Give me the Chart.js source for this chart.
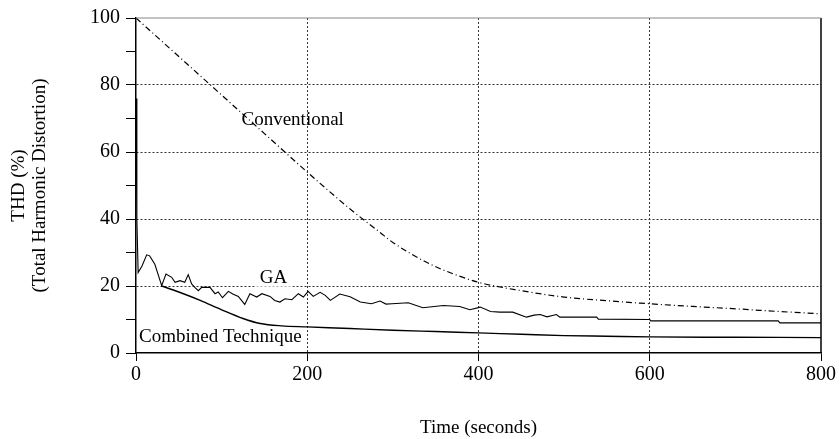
<!DOCTYPE html>
<html>
<head>
<meta charset="utf-8">
<script src="https://cdn.jsdelivr.net/npm/chart.js@4"></script>
<style>
  body { margin:0; background:#fff; }
  #c { display:block; }
</style>
</head>
<body>
<canvas id="c" width="840" height="439"></canvas>
<script>
// THD vs time, three techniques

const convT = [0, 50, 100, 150, 200, 250, 285, 300, 343, 375, 400, 450, 500, 550, 600, 650, 700, 750, 800];
const convV = [100, 88.5, 77, 65.5, 54, 43, 36, 33, 26.6, 23.2, 21.1, 18.6, 16.7, 15.6, 14.7, 13.9, 13.2, 12.4, 11.7];

const gaT = [0, 1, 2.5, 7, 12.5, 16, 22, 30, 35, 41.7, 45.6, 51.4, 57, 61, 65, 69, 72.8, 76.7, 86.4, 92.3, 96, 101, 107.9, 113, 119.5, 127, 133, 141, 147, 156.5, 162, 168, 174, 182, 189.6, 195.5, 201, 207, 215, 221, 227, 238, 250, 262, 275, 285, 292, 299, 318, 335, 359, 378, 390, 402, 414, 425, 440, 456, 465, 472, 480, 491, 495, 538, 540, 600, 601, 750, 752, 800];
const gaV = [76, 40, 24, 26, 29.3, 29, 26.5, 20.1, 23.6, 22.6, 21.1, 21.6, 21.1, 23.4, 20.6, 19.5, 18.6, 19.6, 19.6, 17.7, 18.2, 16.5, 18.4, 17.6, 16.9, 14.5, 17.7, 16.7, 17.7, 16.9, 15.7, 15.2, 16.2, 15.9, 17.7, 16.7, 18.4, 16.9, 18.1, 17.2, 15.7, 17.6, 16.8, 15.2, 14.7, 15.5, 14.6, 14.7, 15.0, 13.5, 14.2, 13.9, 12.9, 13.7, 12.4, 12.2, 12.2, 10.7, 11.3, 11.5, 10.8, 11.5, 10.7, 10.7, 10.1, 10.0, 9.6, 9.6, 9.0, 9.0];

const combT = [30, 50, 75, 100, 125, 145, 170, 200, 250, 300, 350, 400, 450, 500, 550, 600, 700, 800];
const combV = [20, 18.2, 15.7, 12.9, 10.3, 8.8, 8.1, 7.8, 7.3, 6.8, 6.4, 6.0, 5.6, 5.2, 5.0, 4.8, 4.7, 4.6];

const xTicks = [0, 200, 400, 600, 800];
const yTicks = [0, 20, 40, 60, 80, 100];

const serif = '"Liberation Serif", "DejaVu Serif", serif';

function pts(ts, vs) { return ts.map((t, i) => ({ x: t, y: vs[i] })); }

const textPlugin = {
  id: 'texts',
  afterDatasetsDraw(chart) {
    const ctx = chart.ctx;
    const xs = chart.scales.x, ys = chart.scales.y;
    const a = chart.chartArea;
    ctx.save();
    // frame: solid right and top
    ctx.strokeStyle = '#000';
    ctx.lineWidth = 1.5;
    ctx.beginPath();
    ctx.moveTo(a.right, a.top);
    ctx.lineTo(a.right, a.bottom);
    ctx.stroke();
    ctx.strokeStyle = '#888';
    ctx.lineWidth = 1.2;
    ctx.beginPath();
    ctx.moveTo(a.left, a.top);
    ctx.lineTo(a.right, a.top);
    ctx.stroke();

    ctx.fillStyle = '#000';
    ctx.font = '19px ' + serif;
    ctx.textBaseline = 'middle';
    ctx.textAlign = 'center';
    ctx.fillText('Conventional', xs.getPixelForValue(183), ys.getPixelForValue(69.5));

    const gx = xs.getPixelForValue(160.6), gy = ys.getPixelForValue(22.5);
    ctx.fillStyle = '#fff';
    ctx.fillRect(gx - 19, gy - 9, 38, 18);
    ctx.fillStyle = '#000';
    ctx.fillText('GA', gx, gy);

    ctx.textAlign = 'left';
    ctx.fillText('Combined Technique', xs.getPixelForValue(3.5), ys.getPixelForValue(4.9));

    // axis titles
    ctx.font = '19px ' + serif;
    ctx.textAlign = 'center';
    ctx.fillText('Time (seconds)', (a.left + a.right) / 2, 428);
    ctx.translate(0, (a.top + a.bottom) / 2);
    ctx.rotate(-Math.PI / 2);
    ctx.fillText('THD (%)', 0, 19);
    ctx.fillText('(Total Harmonic Distortion)', 0, 40);
    ctx.restore();
  }
};

new Chart(document.getElementById('c'), {
  type: 'line',
  data: {
    datasets: [
      {
        label: 'Conventional',
        data: pts(convT, convV),
        borderColor: '#000',
        borderWidth: 1.2,
        borderDash: [6, 3, 1, 3],
        pointRadius: 0,
        cubicInterpolationMode: 'monotone',
        fill: false
      },
      {
        label: 'GA',
        data: pts(gaT, gaV),
        borderColor: '#000',
        borderWidth: 1.1,
        pointRadius: 0,
        tension: 0,
        fill: false
      },
      {
        label: 'Combined Technique',
        data: pts(combT, combV),
        borderColor: '#000',
        borderWidth: 1.4,
        pointRadius: 0,
        cubicInterpolationMode: 'monotone',
        fill: false
      }
    ]
  },
  options: {
    responsive: false,
    devicePixelRatio: 1,
    animation: false,
    layout: { padding: { top: 15, right: 19, left: 0, bottom: 0 } },
    plugins: { legend: { display: false }, tooltip: { enabled: false } },
    scales: {
      x: {
        type: 'linear',
        min: 0,
        max: 800,
        afterFit(s) { s.height = 439 - 353 - 0; },
        afterBuildTicks(s) { s.ticks = xTicks.map(v => ({ value: v })); },
        ticks: { color: '#000', font: { family: serif, size: 20 }, padding: 2, maxRotation: 0 },
        grid: {
          color: c => (c.tick && c.tick.value > 0 && c.tick.value < 800) ? '#333' : 'rgba(0,0,0,0)',
          tickColor: '#000',
          lineWidth: 1,
          tickLength: 8
        },
        border: { color: '#000', width: 1.5, dash: [2, 2] }
      },
      y: {
        min: 0,
        max: 100,
        afterFit(s) { s.width = 136; },
        afterBuildTicks(s) {
          const t = [];
          for (let v = 0; v <= 100; v += 10) t.push({ value: v });
          s.ticks = t;
        },
        ticks: {
          color: '#000',
          font: { family: serif, size: 20 },
          padding: 6,
          callback: v => yTicks.includes(v) ? String(v) : ''
        },
        grid: {
          color: c => (c.tick && yTicks.includes(c.tick.value) && c.tick.value > 0 && c.tick.value < 100) ? '#333' : 'rgba(0,0,0,0)',
          tickColor: '#000',
          lineWidth: 1,
          tickLength: 10
        },
        border: { color: '#000', width: 1.5, dash: [2, 2] }
      }
    }
  },
  plugins: [textPlugin]
});
</script>
</body>
</html>
